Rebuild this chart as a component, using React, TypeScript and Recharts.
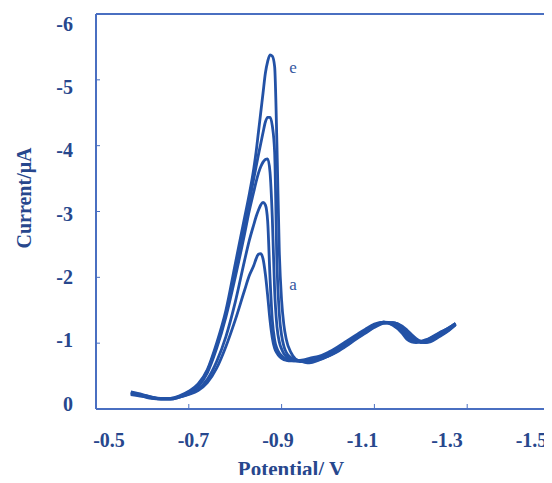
import { LineChart, Line, XAxis, YAxis, ReferenceLine, ReferenceDot } from "recharts";

// potential (V) sampled along the sweep, finer around the main peak
const potential = [
  -0.575, -0.6, -0.62, -0.64, -0.66, -0.68, -0.7, -0.72, -0.74, -0.76,
  -0.78, -0.8, -0.82, -0.83, -0.84, -0.845, -0.85, -0.855, -0.86, -0.865,
  -0.87, -0.875, -0.88, -0.885, -0.89, -0.895, -0.9, -0.905, -0.91, -0.92,
  -0.93, -0.94, -0.95, -0.96, -0.98, -1.0, -1.02, -1.04, -1.06, -1.08,
  -1.1, -1.12, -1.14, -1.16, -1.17, -1.18, -1.19, -1.2, -1.21, -1.22,
  -1.24, -1.26, -1.275,
];

// current (µA) for curves a..e
const currentA = [
  -0.22, -0.19, -0.16, -0.15, -0.15, -0.18, -0.22, -0.28, -0.4, -0.62,
  -0.95, -1.35, -1.8, -2.02, -2.18, -2.28, -2.35, -2.36, -2.28, -2.05,
  -1.72, -1.35, -1.08, -0.92, -0.85, -0.8, -0.77, -0.75, -0.74, -0.73,
  -0.73, -0.74, -0.75, -0.77, -0.8, -0.86, -0.94, -1.03, -1.12, -1.21,
  -1.29, -1.32, -1.27, -1.15, -1.06, -1.02, -1.01, -1.03, -1.05, -1.08,
  -1.16, -1.23, -1.3,
];
const currentB = [
  -0.23, -0.2, -0.17, -0.15, -0.15, -0.18, -0.23, -0.3, -0.45, -0.72,
  -1.1, -1.62, -2.25, -2.55, -2.8, -2.92, -3.02, -3.1, -3.14, -3.1,
  -2.85, -2.0, -1.35, -1.05, -0.92, -0.85, -0.81, -0.78, -0.76, -0.74,
  -0.73, -0.72, -0.73, -0.74, -0.77, -0.83, -0.91, -1.0, -1.1, -1.19,
  -1.27, -1.32, -1.28, -1.18, -1.09, -1.04, -1.02, -1.02, -1.04, -1.07,
  -1.15, -1.23, -1.3,
];
const currentC = [
  -0.24, -0.2, -0.17, -0.16, -0.16, -0.19, -0.25, -0.34, -0.55, -0.92,
  -1.4, -2.0, -2.65, -3.0, -3.3, -3.45, -3.58, -3.68, -3.75, -3.79,
  -3.8, -3.6, -2.9, -1.8, -1.25, -1.02, -0.91, -0.84, -0.8, -0.76,
  -0.74, -0.73, -0.72, -0.73, -0.76, -0.81, -0.89, -0.98, -1.08, -1.17,
  -1.26, -1.32, -1.3, -1.21, -1.13, -1.07, -1.03, -1.01, -1.02, -1.05,
  -1.13, -1.21, -1.29,
];
const currentD = [
  -0.25, -0.21, -0.18, -0.16, -0.16, -0.19, -0.26, -0.36, -0.58, -0.96,
  -1.45, -2.1, -2.78, -3.12, -3.5, -3.68, -3.86, -4.03, -4.2, -4.36,
  -4.43, -4.43, -4.3, -3.9, -2.2, -1.45, -1.12, -0.95, -0.86, -0.78,
  -0.75, -0.73, -0.72, -0.72, -0.75, -0.8, -0.88, -0.97, -1.07, -1.16,
  -1.25, -1.31, -1.31, -1.24, -1.17, -1.1, -1.05, -1.02, -1.01, -1.03,
  -1.11, -1.2, -1.28,
];
const currentE = [
  -0.26, -0.22, -0.18, -0.16, -0.16, -0.2, -0.27, -0.38, -0.6, -1.0,
  -1.5, -2.2, -2.9, -3.25, -3.65, -3.9, -4.2, -4.5, -4.8, -5.1,
  -5.28, -5.38, -5.36, -5.2, -4.0, -2.4, -1.65, -1.27, -1.06, -0.86,
  -0.76, -0.73, -0.71, -0.7, -0.74, -0.8, -0.87, -0.96, -1.06, -1.15,
  -1.24, -1.3, -1.31, -1.26, -1.2, -1.13, -1.07, -1.03, -1.01, -1.02,
  -1.1, -1.19, -1.28,
];

const xTicks = [-0.5, -0.7, -0.9, -1.1, -1.3, -1.5];
const yTicks = [0, -1, -2, -3, -4, -5, -6];

const AXIS = "#4a6fc1";
const INK = "#27478d";
const TRACE = "#2352a6";
const FONT = '"Liberation Serif", "Times New Roman", serif';

const rows = potential.map((p, i) => ({
  potential: p,
  a: currentA[i],
  b: currentB[i],
  c: currentC[i],
  d: currentD[i],
  e: currentE[i],
}));

function XTick(props: any) {
  const { x, y, payload, index } = props;
  const shift = 13 - 8.3 * index;
  return (
    <g>
      <line x1={x} y1={y} x2={x} y2={y - 5} stroke={AXIS} strokeWidth={1} />
      <text
        x={x + shift}
        y={y + 38}
        textAnchor="middle"
        fill={INK}
        fontFamily={FONT}
        fontWeight="bold"
        fontSize={20}
      >
        {payload.value}
      </text>
    </g>
  );
}

function YTick(props: any) {
  const { x, y, payload } = props;
  const shift = 10 - 2.5 * (payload.value + 6);
  return (
    <g>
      <line x1={x} y1={y} x2={x + 4} y2={y} stroke={AXIS} strokeWidth={1} />
      <text
        x={x - 23}
        y={y + shift + 6.5}
        textAnchor="end"
        fill={INK}
        fontFamily={FONT}
        fontWeight="bold"
        fontSize={20}
      >
        {payload.value}
      </text>
    </g>
  );
}

const XTitle = () => (
  <text x={291} y={476} textAnchor="middle" fill={INK} fontFamily={FONT} fontWeight="bold" fontSize={21}>
    Potential/ V
  </text>
);

const YTitle = () => (
  <text
    x={24}
    y={198}
    transform="rotate(-90 24 198)"
    textAnchor="middle"
    dominantBaseline="central"
    fill={INK}
    fontFamily={FONT}
    fontWeight="bold"
    fontSize={20}
  >
    Current/μA
  </text>
);

const curveLabel = { position: "center" as const, fill: "#3658a0", fontSize: 17, fontFamily: FONT };

export default function App() {
  return (
    <div style={{ margin: -8, width: 552, height: 483 }}>
      <LineChart
        width={552}
        height={483}
        data={rows}
        margin={{ top: 14, right: -8, bottom: 0, left: 0 }}
        style={{ fontFamily: FONT }}
      >
        <XAxis
          dataKey="potential"
          type="number"
          domain={[-1.5, -0.5]}
          reversed
          ticks={xTicks}
          interval={0}
          height={74}
          tickSize={0}
          tickMargin={0}
          tickLine={false}
          axisLine={{ stroke: AXIS, strokeWidth: 2 }}
          tick={XTick}
          label={XTitle}
        />
        <YAxis
          type="number"
          domain={[-6, 0]}
          reversed
          ticks={yTicks}
          interval={0}
          width={96}
          tickSize={0}
          tickMargin={0}
          tickLine={false}
          axisLine={{ stroke: AXIS, strokeWidth: 2 }}
          tick={YTick}
          label={YTitle}
        />
        <ReferenceLine y={-6} stroke={AXIS} strokeWidth={2} />
        <Line dataKey="a" type="monotone" stroke={TRACE} strokeWidth={2.8} dot={false} isAnimationActive={false} />
        <Line dataKey="b" type="monotone" stroke={TRACE} strokeWidth={2.8} dot={false} isAnimationActive={false} />
        <Line dataKey="c" type="monotone" stroke={TRACE} strokeWidth={2.8} dot={false} isAnimationActive={false} />
        <Line dataKey="d" type="monotone" stroke={TRACE} strokeWidth={2.8} dot={false} isAnimationActive={false} />
        <Line dataKey="e" type="monotone" stroke={TRACE} strokeWidth={2.8} dot={false} isAnimationActive={false} />
        <ReferenceDot x={-0.9246} y={-5.195} r={1} fill="none" stroke="none" label={{ value: "e", ...curveLabel }} />
        <ReferenceDot x={-0.9246} y={-1.9} r={1} fill="none" stroke="none" label={{ value: "a", ...curveLabel }} />
      </LineChart>
    </div>
  );
}
